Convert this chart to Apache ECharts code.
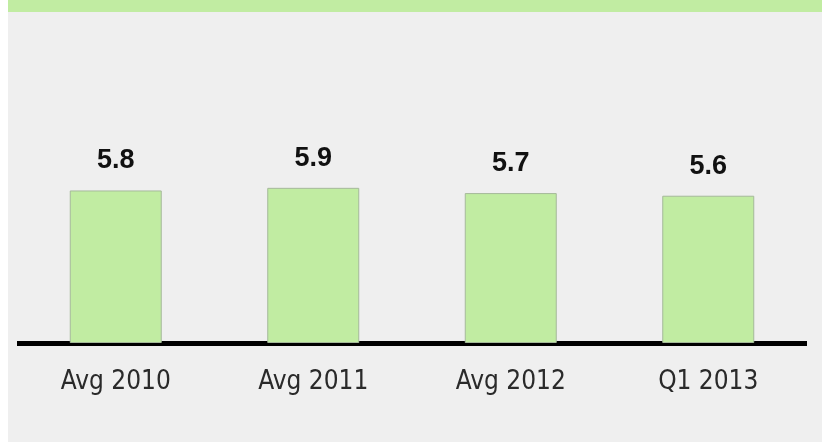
<!DOCTYPE html>
<html>
<head>
<meta charset="utf-8">
<style>
  html, body { margin: 0; padding: 0; background: #ffffff; }
  #chart { width: 822px; height: 443px; }
</style>
<script src="https://cdn.jsdelivr.net/npm/echarts@6/dist/echarts.min.js"></script>
</head>
<body>
<div id="chart"></div>
<script>
// Periods on the x axis and the value shown for each
const categories = ['Avg 2010', 'Avg 2011', 'Avg 2012', 'Q1 2013'];
const values = [5.8, 5.9, 5.7, 5.6];

const chart = echarts.init(document.getElementById('chart'), null, { renderer: 'canvas' });

chart.setOption({
  backgroundColor: '#ffffff',
  animation: false,
  graphic: [
    // grey panel behind the plot
    { type: 'rect', z: -10, silent: true,
      shape: { x: 8, y: 12, width: 814, height: 430 },
      style: { fill: '#efefef' } },
    // green header band
    { type: 'rect', z: -10, silent: true,
      shape: { x: 8, y: 0, width: 814, height: 12 },
      style: { fill: '#c1eca2' } }
  ],
  grid: { left: 17, right: 15, top: 80, bottom: 100, containLabel: false },
  xAxis: {
    type: 'category',
    data: categories,
    axisLine: { show: true, lineStyle: { color: '#000000', width: 5, cap: 'butt' } },
    axisTick: { show: false },
    axisLabel: {
      margin: 26,
      color: '#2a2a2a',
      fontSize: 26,
      fontFamily: '"DejaVu Sans Condensed", "Liberation Sans Narrow", "Liberation Sans", sans-serif'
    }
  },
  yAxis: {
    type: 'value',
    min: 0,
    max: 10,
    show: false,
    splitLine: { show: false }
  },
  series: [{
    type: 'bar',
    data: values,
    barWidth: 92,
    itemStyle: { color: '#c1eca2', borderColor: '#a5b99a', borderWidth: 1 },
    label: {
      show: true,
      position: 'top',
      distance: 16,
      color: '#111111',
      fontSize: 27,
      fontWeight: 'bold',
      fontFamily: '"Liberation Sans", Arial, sans-serif',
      formatter: p => p.value.toFixed(1)
    }
  }]
});
</script>
</body>
</html>
